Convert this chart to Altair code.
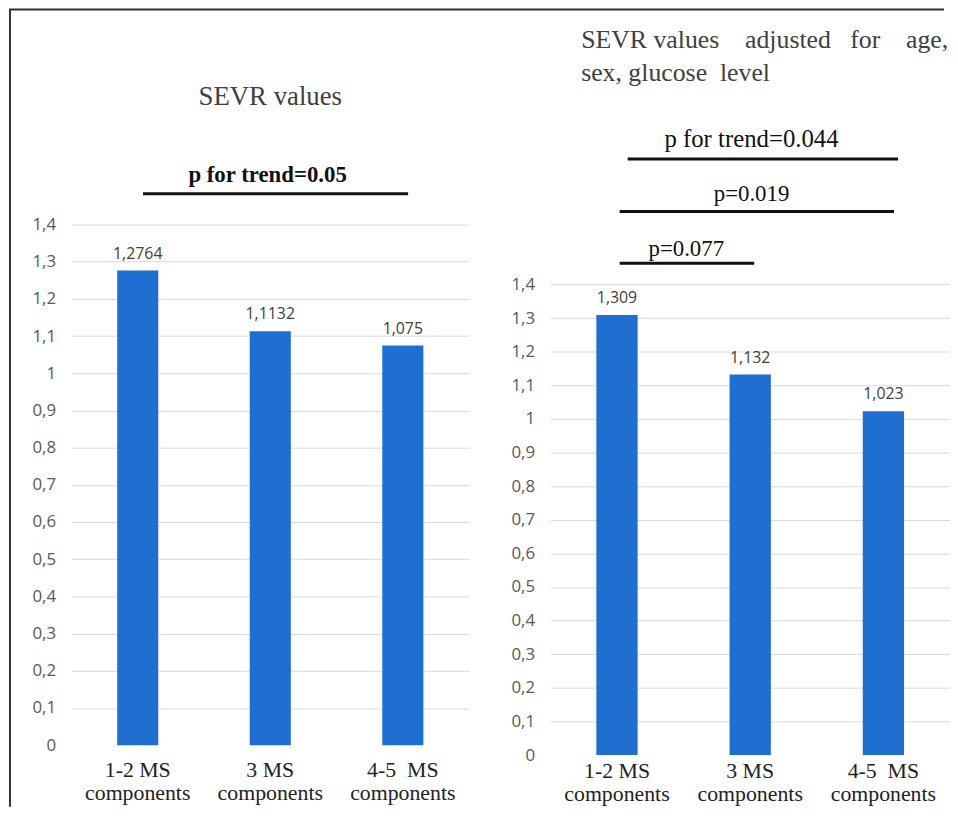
import altair as alt
import pandas as pd

# ---------------- data ----------------
categories = ["1-2 MS|components", "3 MS|components", "4-5\u00a0 MS|components"]
sevr_values = [1.2764, 1.1132, 1.075]
sevr_adjusted = [1.309, 1.132, 1.023]
y_ticks = [0, 0.1, 0.2, 0.3, 0.4, 0.5, 0.6, 0.7, 0.8, 0.9, 1, 1.1, 1.2, 1.3, 1.4]

left_title = "SEVR values"
right_title = ["SEVR values\u00a0\u00a0\u00a0 adjusted\u00a0\u00a0 for\u00a0\u00a0\u00a0 age,",
               "sex, glucose\u00a0 level"]

# significance brackets: x in bar-index units (0..3 across the plot), y in SEVR units
left_ann_text = ["p for trend=0.05"]
left_ann_x1 = [0.54]
left_ann_x2 = [2.54]
left_ann_xt = [1.48]
left_ann_line_y = [1.483]
left_ann_text_y = [1.533]

right_ann_text = ["p for trend=0.044", "p=0.019", "p=0.077"]
right_ann_x1 = [0.58, 0.52, 0.52]
right_ann_x2 = [2.61, 2.58, 1.53]
right_ann_xt = [1.51, 1.51, 1.02]
right_ann_line_y = [1.773, 1.617, 1.463]
right_ann_text_y = [1.832, 1.670, 1.504]

BLUE = "#1e6fcf"
SERIF = "Liberation Serif"
SANS = "Open Sans"


def panel(values, width, height, ymax, title, ann, trend_style, other_style, x_pad,
          border=False):
    df = pd.DataFrame({
        "cat": categories,
        "value": values,
        "label": [str(v).replace(".", ",") for v in values],
    })
    band = alt.Scale(paddingInner=0.69, paddingOuter=0.345)
    yscale = alt.Scale(domain=[0, ymax], nice=False, zero=False)
    idx_scale = alt.Scale(domain=[0, 3], nice=False, zero=False)

    bars = alt.Chart(df).mark_bar(color=BLUE).encode(
        x=alt.X("cat:N", sort=categories, scale=band, title=None,
                axis=alt.Axis(labelExpr="split(datum.label, '|')", labelAngle=0,
                              ticks=False, domain=False, grid=False,
                              labelFont=SERIF, labelFontSize=22, labelColor="#222222",
                              labelLineHeight=23, labelBaseline="top",
                              labelPadding=x_pad)),
        y=alt.Y("value:Q", scale=yscale, title=None,
                axis=alt.Axis(values=y_ticks, format="~g",
                              labelExpr="replace(datum.label, '.', ',')",
                              grid=True, gridColor="#d9d9d9", gridWidth=1,
                              gridOpacity={"condition": {"test": "datum.value === 0", "value": 0}, "value": 1},
                              domain=False, ticks=False, labelPadding=16,
                              labelFont=SANS, labelFontSize=17, labelColor="#595959")),
    )
    labels = alt.Chart(df).mark_text(baseline="bottom", dy=-9, font=SANS, fontSize=16,
                                     color="#404040").encode(
        x=alt.X("cat:N", sort=categories, scale=band, axis=None),
        y=alt.Y("value:Q", title=None),
        text="label:N",
    )
    rules = alt.Chart(ann).mark_rule(strokeWidth=3, color="#111111").encode(
        x=alt.X("x1:Q", scale=idx_scale, axis=None),
        x2="x2:Q",
        y=alt.Y("ly:Q", title=None),
    )
    trend_text = alt.Chart(ann).transform_filter(
        "indexof(datum.text, 'trend') >= 0"
    ).mark_text(baseline="middle", font=SERIF, color="#111111", **trend_style).encode(
        x=alt.X("xt:Q", scale=idx_scale, axis=None),
        y=alt.Y("ty:Q", title=None),
        text="text:N",
    )
    layers = [bars, labels, rules, trend_text]
    if len(ann) > 1:
        other_text = alt.Chart(ann).transform_filter(
            "indexof(datum.text, 'trend') < 0"
        ).mark_text(baseline="middle", font=SERIF, color="#111111", **other_style).encode(
            x=alt.X("xt:Q", scale=idx_scale, axis=None),
            y=alt.Y("ty:Q", title=None),
            text="text:N",
        )
        layers.append(other_text)
    if border:
        one = pd.DataFrame({"k": [0]})
        vline = alt.Chart(one).mark_rule(strokeWidth=2, color="#333333").encode(
            x=alt.value(-62), y=alt.value(-112), y2=alt.value(692))
        hline = alt.Chart(one).mark_rule(strokeWidth=2, color="#333333").encode(
            x=alt.value(-63), x2=alt.value(880), y=alt.value(-112))
        layers += [vline, hline]
    return alt.layer(*layers).resolve_scale(x="independent").properties(
        width=width, height=height, title=title)


left_ann = pd.DataFrame({"text": left_ann_text, "x1": left_ann_x1, "x2": left_ann_x2,
                         "xt": left_ann_xt, "ly": left_ann_line_y, "ty": left_ann_text_y})
right_ann = pd.DataFrame({"text": right_ann_text, "x1": right_ann_x1, "x2": right_ann_x2,
                          "xt": right_ann_xt, "ly": right_ann_line_y, "ty": right_ann_text_y})

left = panel(sevr_values, 401, 630, 1.68,
             alt.TitleParams(left_title, font=SERIF, fontSize=27, fontWeight="normal",
                             color="#404040", anchor="middle", frame="group",
                             baseline="bottom", offset=-130),
             left_ann, {"fontSize": 23, "fontWeight": "bold"}, {}, 15, border=True)
right = panel(sevr_adjusted, 403, 640, 1.888,
              alt.TitleParams(right_title, font=SERIF, fontSize=26, fontWeight="normal",
                              color="#404040", anchor="start", frame="group", dx=31,
                              lineHeight=33, baseline="bottom", offset=9),
              right_ann, {"fontSize": 25, "fontWeight": "normal"},
              {"fontSize": 23, "fontWeight": "normal"}, 6)

chart = alt.hconcat(left, right, spacing=82, bounds="flush").properties(
    padding={"left": 0, "top": -3, "right": 0, "bottom": 0},
    background="white",
).configure_view(stroke=None).configure_axisX(
    labelFont=SERIF, labelFontSize=22, labelColor="#222222", labelLineHeight=23,
    labelAngle=0, labelBaseline="top", ticks=False, domain=False,
)

chart.save("out.html", embed_options={"renderer": "svg", "actions": False})
